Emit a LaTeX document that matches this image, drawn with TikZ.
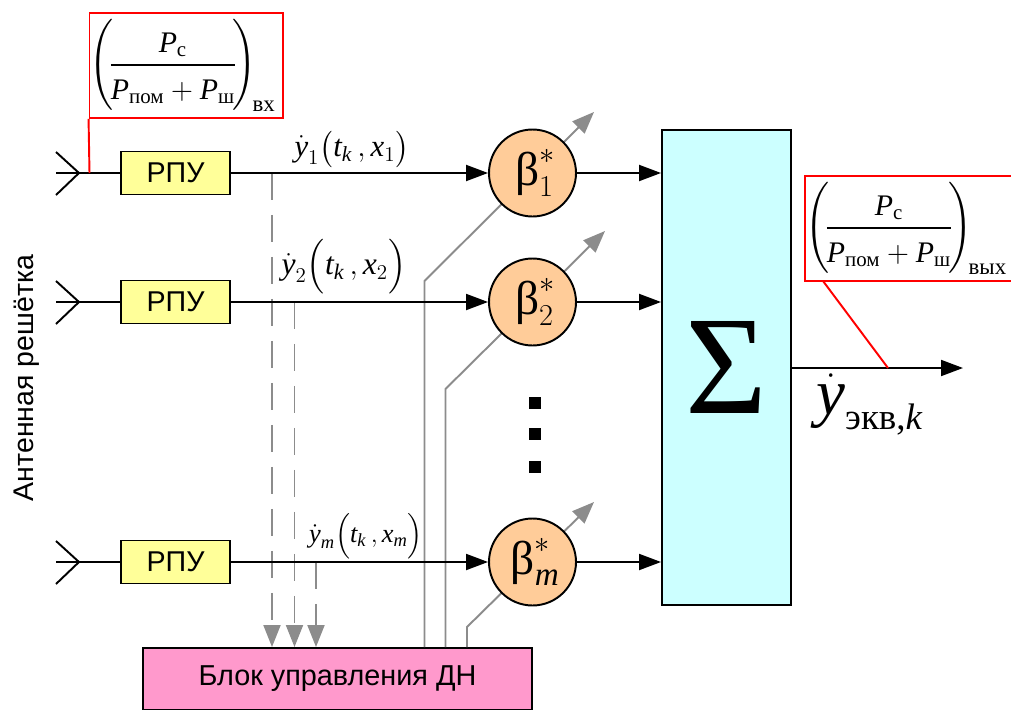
\documentclass[tikz,border=0pt]{standalone}
\usepackage{amsmath, fontspec}
\setmainfont{Liberation Serif}
\newfontfamily\sansrus{Liberation Sans}
\usetikzlibrary{arrows.meta}
\definecolor{litegray}{RGB}{140,140,140}
\definecolor{liteyellow}{RGB}{255,255,153}
\definecolor{liteorange}{RGB}{255,204,153}
\definecolor{litecyan}{RGB}{204,255,255}
\definecolor{litepink}{RGB}{255,153,204}
\tikzstyle{rpu}=[draw, line width=1.1pt, fill=liteyellow, minimum width=2.18cm, minimum height=.86cm, inner sep=0pt, font=\sansrus\fontsize{16.3}{18}\selectfont]
\tikzstyle{beta}=[circle, draw, line width=1.1pt, fill=liteorange, minimum size=1.74cm, inner sep=0pt, font=\fontsize{27}{30}\selectfont]
\tikzstyle{sig}=[-{Triangle[length=.44cm, width=.32cm]}, line width=1.1pt]
\tikzstyle{ctrl}=[draw=litegray, line width=1.1pt, -{Triangle[length=.44cm, width=.34cm, fill=litegray]}]
\tikzstyle{ctrldash}=[ctrl, dash pattern=on 15.4pt off 8.5pt]
\tikzstyle{antenna}=[line width=1.1pt]
\tikzstyle{redline}=[draw=red, line width=1.1pt]
\tikzstyle{redbox}=[redline, fill=white, minimum height=2.1cm, inner sep=0pt, font=\fontsize{17}{20}\selectfont]
\tikzstyle{blackdot}=[fill=black, minimum size=.24cm, inner sep=0pt]
\newcommand{\Pit}{\text{\itshape P}}
\newcommand{\snr}[1]{\hspace*{-4pt}$\displaystyle\left(\rule[-1.25em]{0pt}{3em}\!\frac{\Pit_{\text{с}}}{\rule{0pt}{1em}\Pit_{\text{пом}}+\Pit_{\text{ш}}}\!\right)_{\!\text{\fontsize{13}{13}\selectfont #1}}$}
\newcommand{\ysig}[1]{$\dot{\text{\itshape y}}_{#1}\!\left(\rule[-.4em]{0pt}{1.25em}\text{\itshape t}_{\text{\itshape k}}\,,\text{\itshape x}_{#1}\right)$}
\begin{document}
\begin{tikzpicture}[x=.02cm, y=-.02cm]
    \useasboundingbox (0,0) rectangle (1011,710);
    \coordinate (a1) at (79,173);
    \coordinate (a2) at (79,302);
    \coordinate (a3) at (79,562);
    \coordinate (out) at (963,368);
    \coordinate (red1) at (89.5,173);
    \coordinate (red2) at (888,368);
    \coordinate (red3) at (823,281);
    \coordinate (d1) at (272,173);
    \coordinate (d2) at (294.5,302);
    \coordinate (d3) at (316,562);
    \coordinate (b1) at (424.5,281);
    \coordinate (b2) at (445.5,389);
    \coordinate (b3) at (467,627);
    \coordinate (t1) at (594,112);
    \coordinate (t2) at (605,231);
    \coordinate (t3) at (594,502);
    \node[draw, line width=1.1pt, fill=litepink, minimum width=7.78cm, minimum height=1.24cm, inner sep=0pt, font=\sansrus\fontsize{16.4}{18}\selectfont] (blok) at (337.5,679) {Блок управления ДН};
    \node[draw, line width=1.1pt, fill=litecyan, minimum width=2.58cm, minimum height=9.5cm, inner sep=0pt, font=\fontsize{80}{84}\selectfont] (sum) at (726.5,367.5) {Σ};
    % control lines go under the circles
    \draw[ctrl] (blok.north -| b1) -- (b1) -- (t1);
    \draw[ctrl] (blok.north -| b2) -- (b2) -- (t2);
    \draw[ctrl] (blok.north -| b3) -- (b3) -- (t3);
    \node[beta] (k1) at (532.5,173) {\hspace{3pt}$\text{β}^{*}_{1}$};
    \node[beta] (k2) at (532.5,302) {\hspace{3pt}$\text{β}^{*}_{2}$};
    \node[beta] (k3) at (532.5,562) {\hspace{3pt}$\text{β}^{*}_{\text{\itshape m}}$};
    \node[rpu] (r1) at (175.5,173) {РПУ};
    \node[rpu] (r2) at (175.5,302) {РПУ};
    \node[rpu] (r3) at (175.5,562) {РПУ};
    \draw[ctrldash] (d1) -- (d1 |- blok.north);
    \draw[ctrldash] (d2) -- (d2 |- blok.north);
    \draw[ctrldash] (d3) -- (d3 |- blok.north);
    \draw[antenna] (56,152) -- (a1) -- (56,195);
    \draw[antenna] (56,281) -- (a2) -- (56,324);
    \draw[antenna] (56,541) -- (a3) -- (56,584);
    \draw[antenna] (56,173) -- (r1);
    \draw[antenna] (56,302) -- (r2);
    \draw[antenna] (56,562) -- (r3);
    \draw[sig] (r1) -- (k1);
    \draw[sig] (r2) -- (k2);
    \draw[sig] (r3) -- (k3);
    \draw[sig] (k1) -- (k1 -| sum.west);
    \draw[sig] (k2) -- (k2 -| sum.west);
    \draw[sig] (k3) -- (k3 -| sum.west);
    \draw[sig] (sum.east |- out) -- (out);
    \node[font=\fontsize{17.5}{20}\selectfont] (l1) at (352,150) {\ysig{1}};
    \node[font=\fontsize{18}{22}\selectfont] (l2) at (344,267) {\ysig{2}};
    \node[font=\fontsize{15}{18}\selectfont] (l3) at (366,536) {\ysig{\text{\itshape m}}};
    \node[anchor=base west, inner sep=0pt] (yout) at (816,414) {\fontsize{37}{40}\selectfont$\dot{\text{\itshape y}}$\fontsize{21}{24}\selectfont\raisebox{-9pt}{экв,\textit{k}}};
    \node[redbox, minimum width=3.87cm] (vx) at (186.25,65.5) {\snr{вх}};
    \draw[redline] (vx.south west) -- (red1);
    \node[redbox, minimum width=4.2cm, anchor=west] (vyx) at (804,228.5) {\snr{вых}};
    \draw[redline] (red3) -- (red2);
    \node[rotate=90, font=\sansrus\fontsize{16.2}{18}\selectfont] (ant) at (27,378) {Антенная решётка};
    \node[blackdot] (p1) at (535,403) {};
    \node[blackdot] (p2) at (535,434) {};
    \node[blackdot] (p3) at (535,467) {};
    \end{tikzpicture}
\end{document}
